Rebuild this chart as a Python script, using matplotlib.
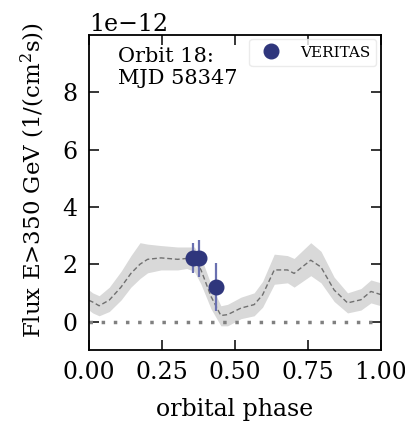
import matplotlib
matplotlib.use("Agg")
import matplotlib.pyplot as plt

plt.rcParams['font.family'] = 'DejaVu Serif'
plt.rcParams['mathtext.fontset'] = 'dejavuserif'

# model curve (dashed) and its band, flux in 1e-12
phase = [0.0, 0.013, 0.035, 0.07, 0.11, 0.144, 0.175, 0.201, 0.247, 0.304, 0.335,
         0.361, 0.384, 0.418, 0.452, 0.475, 0.521, 0.566, 0.595, 0.635, 0.68,
         0.703, 0.76, 0.795, 0.84, 0.886, 0.932, 0.966, 1.0]
model = [0.74, 0.68, 0.55, 0.75, 1.2, 1.68, 2.0, 2.17, 2.22, 2.17, 2.2,
         2.2, 1.8, 0.88, 0.21, 0.24, 0.47, 0.59, 0.93, 1.8, 1.8,
         1.68, 2.14, 1.9, 1.1, 0.65, 0.76, 1.05, 0.94]
band_lo = [0.4, 0.3, 0.2, 0.35, 0.75, 1.2, 1.5, 1.7, 1.8, 1.8, 1.85,
           1.75, 1.3, 0.45, -0.15, -0.15, 0.1, 0.2, 0.5, 1.3, 1.35,
           1.2, 1.6, 1.35, 0.7, 0.3, 0.4, 0.65, 0.55]
band_hi = [1.1, 1.0, 0.9, 1.2, 1.75, 2.3, 2.75, 2.7, 2.65, 2.6, 2.6,
           2.6, 2.25, 1.3, 0.55, 0.6, 0.85, 1.0, 1.4, 2.35, 2.3,
           2.2, 2.75, 2.45, 1.55, 1.0, 1.15, 1.45, 1.35]

# VERITAS points
ver_phase = [0.355, 0.378, 0.437]
ver_flux = [2.22, 2.2, 1.2]
ver_err = [0.52, 0.66, 0.84]

sc = 1e-12
fig = plt.figure(figsize=(4.06, 4.25), dpi=100)
ax = fig.add_axes([0.219, 0.176, 0.719, 0.742])

ax.fill_between(phase, [v*sc for v in band_lo], [v*sc for v in band_hi],
                color='#d9d9d9', lw=0)
ax.plot(phase, [v*sc for v in model], ls='--', color='#707070', lw=1.0, dashes=(3.5, 2))
ax.axhline(0, color='#808080', lw=2.5, dashes=(1, 2.5))
ax.errorbar(ver_phase, [v*sc for v in ver_flux], yerr=[v*sc for v in ver_err],
            fmt='none', ecolor='#6a70b0', elinewidth=1.6)
ax.plot(ver_phase, [v*sc for v in ver_flux], 'o', color='#2f367c', ms=10.5,
        label='VERITAS')

ax.text(0.10, 0.96, 'Orbit 18:\nMJD 58347', transform=ax.transAxes,
        va='top', ha='left', fontsize=15, linespacing=1.2)
ax.legend(loc='upper right', fontsize=11, borderpad=0.4, handletextpad=0.9,
          borderaxespad=0.3, markerscale=1.0, framealpha=0.8, edgecolor='#e6e6e6')

ax.set_xlim(0, 1)
ax.set_ylim(-1e-12, 1e-11)
ax.set_xticks([0, 0.25, 0.5, 0.75, 1.0])
ax.set_yticks([0, 2e-12, 4e-12, 6e-12, 8e-12])
ax.tick_params(direction='in', top=True, right=True, length=7, width=1.1,
               labelsize=17, pad=8)
ax.yaxis.get_offset_text().set_fontsize(17)
for s in ax.spines.values():
    s.set_linewidth(1.3)
ax.set_xlabel('orbital phase', fontsize=17, labelpad=10)
ax.set_ylabel('Flux E>350 GeV (1/(cm$^2$s))', fontsize=16.5)
ax.yaxis.set_label_coords(-0.145, 0.54)

fig.savefig('out.png', dpi=100)
